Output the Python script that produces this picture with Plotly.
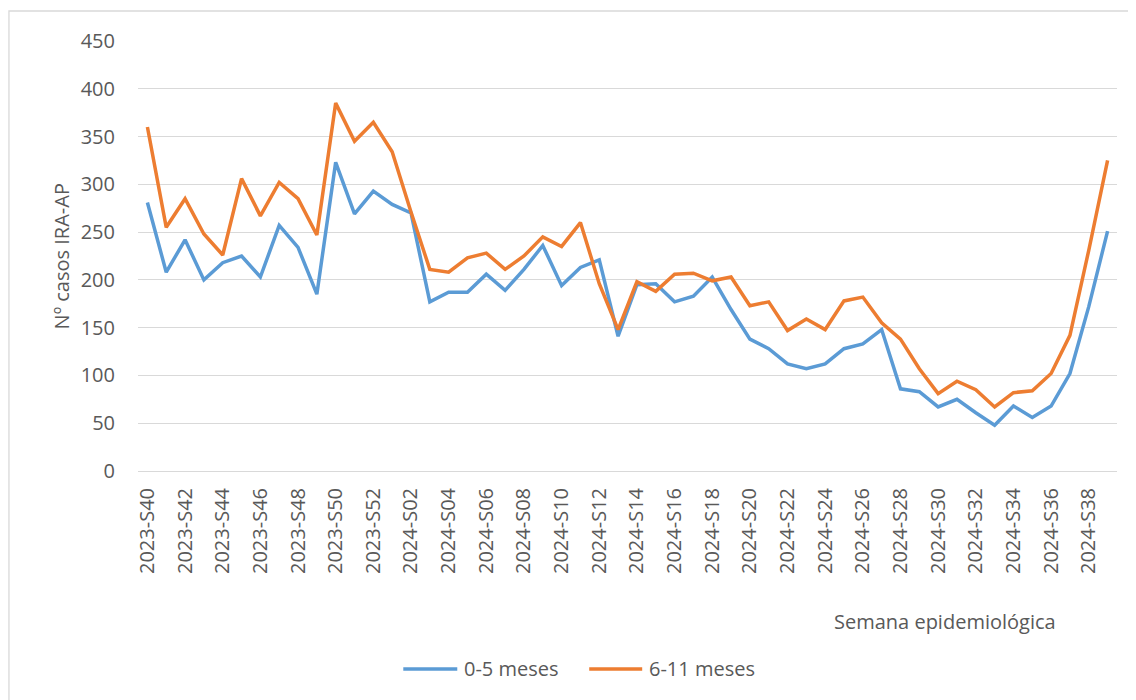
import plotly.graph_objects as go

weeks = (["2023-S%02d" % w for w in range(40, 53)] +
         ["2024-S%02d" % w for w in range(1, 40)])

blue_0_5 = [281, 208, 242, 200, 218, 225, 203, 257, 234, 185,
            323, 269, 293, 279, 270, 177, 187, 187, 206, 189,
            211, 236, 194, 213, 221, 141, 195, 196, 177, 183,
            203, 169, 138, 128, 112, 107, 112, 128, 133, 148,
            86, 83, 67, 75, 61, 48, 68, 56, 68, 102,
            172, 251]
orange_6_11 = [360, 255, 285, 248, 226, 306, 267, 302, 285, 247,
               385, 345, 365, 334, 271, 211, 208, 223, 228, 211,
               225, 245, 235, 260, 196, 148, 198, 188, 206, 207,
               199, 203, 173, 177, 147, 159, 148, 178, 182, 155,
               138, 107, 81, 94, 85, 67, 82, 84, 102, 142,
               231, 325]

series_names = ["0-5 meses", "6-11 meses"]
series_colors = ["#5B9BD5", "#ED7D31"]
y_ticks = [0, 50, 100, 150, 200, 250, 300, 350, 400, 450]

FONT = "Open Sans"
GREY = "#595959"
FS = 20

# page offset (body margin of the html page)
OFF = 8
PL, PR, PT, PB = 137.6, 1117.0, 41.0, 471.0
PW, PH = PR - PL, PB - PT


def px(X):
    return (X - PL) / PW


def py(Y):
    return (PB - Y) / PH


fig = go.Figure()
for name, vals, col in zip(series_names, [blue_0_5, orange_6_11], series_colors):
    fig.add_trace(go.Scatter(x=list(range(len(weeks))), y=vals, mode="lines",
                             name=name, line=dict(color=col, width=3.5),
                             showlegend=False))

fig.update_layout(
    width=1136 - OFF, height=700 - OFF,
    margin=dict(l=PL - OFF, r=1136 - PR, t=PT - OFF, b=700 - PB, autoexpand=False),
    paper_bgcolor="white", plot_bgcolor="white",
    font=dict(family=FONT, size=FS, color=GREY),
    xaxis=dict(range=[-0.5, len(weeks) - 0.5],
               tickmode="array",
               tickvals=list(range(0, len(weeks), 2)),
               ticktext=[weeks[i] for i in range(0, len(weeks), 2)],
               tickangle=-90, showgrid=False, zeroline=False,
               showline=False, ticks="", ticklabelstandoff=12),
    yaxis=dict(range=[0, 450], tickmode="array", tickvals=y_ticks,
               showgrid=True, gridcolor="#D9D9D9", gridwidth=1.3,
               zeroline=True, zerolinecolor="#D9D9D9", zerolinewidth=1.3,
               showline=False, ticks="", ticklabelstandoff=22),
)

fig.add_annotation(text="Nº casos IRA-AP", xref="paper", yref="paper",
                   x=px(61), y=py(256), textangle=-90, showarrow=False,
                   font=dict(size=FS, color=GREY), xanchor="center", yanchor="middle")
fig.add_annotation(text="Semana epidemiológica", xref="paper", yref="paper",
                   x=px(945), y=py(621), showarrow=False,
                   font=dict(size=FS, color=GREY), xanchor="center", yanchor="middle")

# custom legend
leg = [(403, 457, 462), (589, 642, 647)]
for (x0, x1, xt), name, col in zip(leg, series_names, series_colors):
    fig.add_shape(type="line", xref="paper", yref="paper",
                  x0=px(x0), x1=px(x1), y0=py(669), y1=py(669),
                  line=dict(color=col, width=3.5))
    fig.add_annotation(text=name, xref="paper", yref="paper",
                       x=px(xt), y=py(668), showarrow=False, xanchor="left",
                       yanchor="middle", font=dict(size=FS, color=GREY))

fig.add_shape(type="rect", xref="paper", yref="paper",
              x0=px(8.5), x1=px(1150), y0=py(720), y1=py(11),
              line=dict(color="#D9D9D9", width=1.3), layer="below")

fig.write_html("out.html")
